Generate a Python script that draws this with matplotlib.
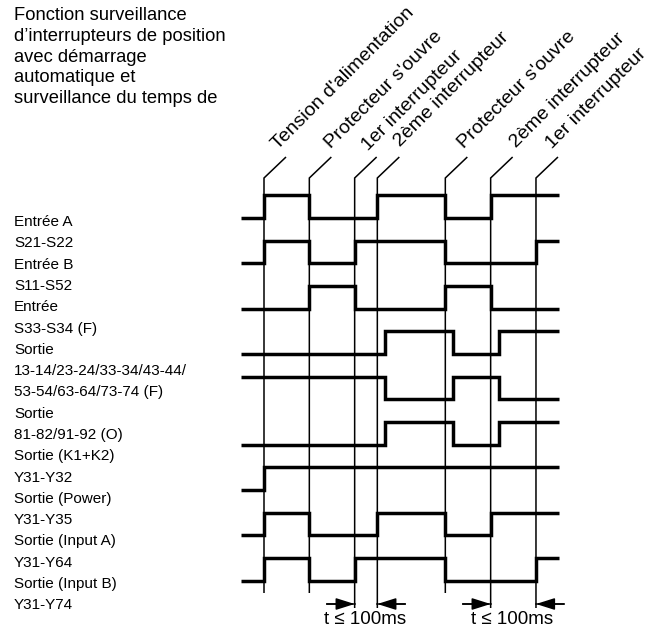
import matplotlib
matplotlib.use("Agg")
import matplotlib.pyplot as plt

# ---------------- data ----------------
title_lines = [
    "Fonction surveillance",
    "d’interrupteurs de position",
    "avec démarrage",
    "automatique et",
    "surveillance du temps de",
]

event_times = [0, 1, 2, 2.5, 4, 5, 6]
event_labels = [
    "Tension d'alimentation",
    "Protecteur s'ouvre",
    "1er interrupteur",
    "2ème interrupteur",
    "Protecteur s'ouvre",
    "2ème interrupteur",
    "1er interrupteur",
]
event_long = [False, False, True, True, False, True, True]

signal_names = [
    "Entrée A S21-S22",
    "Entrée B S11-S52",
    "Entrée S33-S34 (F)",
    "Sortie 13-14/.../73-74 (F)",
    "Sortie 81-82/91-92 (O)",
    "Sortie (K1+K2) Y31-Y32",
    "Sortie (Power) Y31-Y35",
    "Sortie (Input A) Y31-Y64",
    "Sortie (Input B) Y31-Y74",
]
signal_init = [0, 0, 0, 0, 1, 0, 0, 0, 0]
signal_edges = [
    [0, 1, 2.5, 4, 5],
    [0, 1, 2, 4, 6],
    [1, 2, 4, 5],
    [2.68, 4.16, 5.18],
    [2.68, 4.16, 5.18],
    [2.68, 4.16, 5.18],
    [0],
    [0, 1, 2.5, 4, 5],
    [0, 1, 2, 4, 6],
]
t_start, t_end = -0.5, 6.5

label_lines = [
    "Entrée A", "S21-S22",
    "Entrée B", "S11-S52",
    "Entrée", "S33-S34 (F)",
    "Sortie", "13-14/23-24/33-34/43-44/", "53-54/63-64/73-74 (F)",
    "Sortie", "81-82/91-92 (O)",
    "Sortie (K1+K2)", "Y31-Y32",
    "Sortie (Power)", "Y31-Y35",
    "Sortie (Input A)", "Y31-Y64",
    "Sortie (Input B)", "Y31-Y74",
]

timing_windows = [(2, 2.5), (5, 6)]
timing_text = "t ≤ 100ms"

# ---------------- layout (pixels) ----------------
W, H = 668, 630
X0, UX = 264.0, 45.33   # pixel of t=0, pixels per time unit
Y0, UY = 218.0, 45.34   # pixel of first row low level, pixels per row
FAM = ["Liberation Sans", "DejaVu Sans"]


def px(x, y):
    return (x - X0) / UX, -(y - Y0) / UY


fig = plt.figure(figsize=(W / 100, H / 100), dpi=100)
ax = fig.add_axes([0, 0, 1, 1])
ax.set_xlim(-X0 / UX, (W - X0) / UX)
ax.set_ylim(-(H - Y0) / UY, Y0 / UY)
ax.axis("off")

thin = 1.1
thick = 2.5

# event lines with slanted leaders
label_dx = [13.5, 22, 14, 23, 19, 25.7, 16.5]
label_y = [150, 149.4, 151, 147.5, 149.3, 148.3, 149.5]
for i, t in enumerate(event_times):
    y_top = px(0, 157)[1]
    y_kink = px(0, 178)[1]
    y_bot = px(0, 608 if event_long[i] else 593)[1]
    ax.plot([t + 22 / UX, t, t], [y_top, y_kink, y_bot], color="black",
            lw=thin, solid_joinstyle="miter", solid_capstyle="butt")
    lx, ly = px(X0 + t * UX + label_dx[i], label_y[i])
    ax.text(lx, ly, event_labels[i], rotation=45, rotation_mode="anchor",
            ha="left", va="baseline", fontsize=14, family=FAM)

# signals
for r, (init, edges) in enumerate(zip(signal_init, signal_edges)):
    lvl = init
    xs, ys = [t_start], [lvl]
    for e in edges:
        xs.append(e); ys.append(lvl)
        lvl = 1 - lvl
        xs.append(e); ys.append(lvl)
    xs.append(t_end); ys.append(lvl)
    ax.plot(xs, [-r + 0.5 * v for v in ys], color="black", lw=thick,
            solid_joinstyle="miter", solid_capstyle="butt")

# timing arrows
y_arr = px(0, 604)[1]
y_txt = px(0, 623.5)[1]
tail = 28 / UX
for a, b in timing_windows:
    ax.plot([a - tail, a], [y_arr, y_arr], color="black", lw=thin)
    ax.plot([b, b + tail], [y_arr, y_arr], color="black", lw=thin)
    for x0, x1 in [(a - tail, a), (b + tail, b)]:
        ax.annotate("", xy=(x1, y_arr), xytext=(x0, y_arr),
                    arrowprops=dict(arrowstyle="-|>,head_length=0.95,head_width=0.3",
                                    color="black", lw=thin, mutation_scale=12,
                                    shrinkA=0, shrinkB=0))
    ax.text((a + b) / 2 - 0.03, y_txt, timing_text, ha="center", va="baseline",
            fontsize=13.5, family=FAM)

# title
for i, line in enumerate(title_lines):
    x, y = px(14, 20 + 20.8 * i)
    ax.text(x, y, line, ha="left", va="baseline", fontsize=13.2, family=FAM)

# left labels
for i, line in enumerate(label_lines):
    x, y = px(14, 226 + 21.3 * i)
    ax.text(x, y, line, ha="left", va="baseline", fontsize=11, family=FAM)

fig.savefig("out.png", dpi=100)
